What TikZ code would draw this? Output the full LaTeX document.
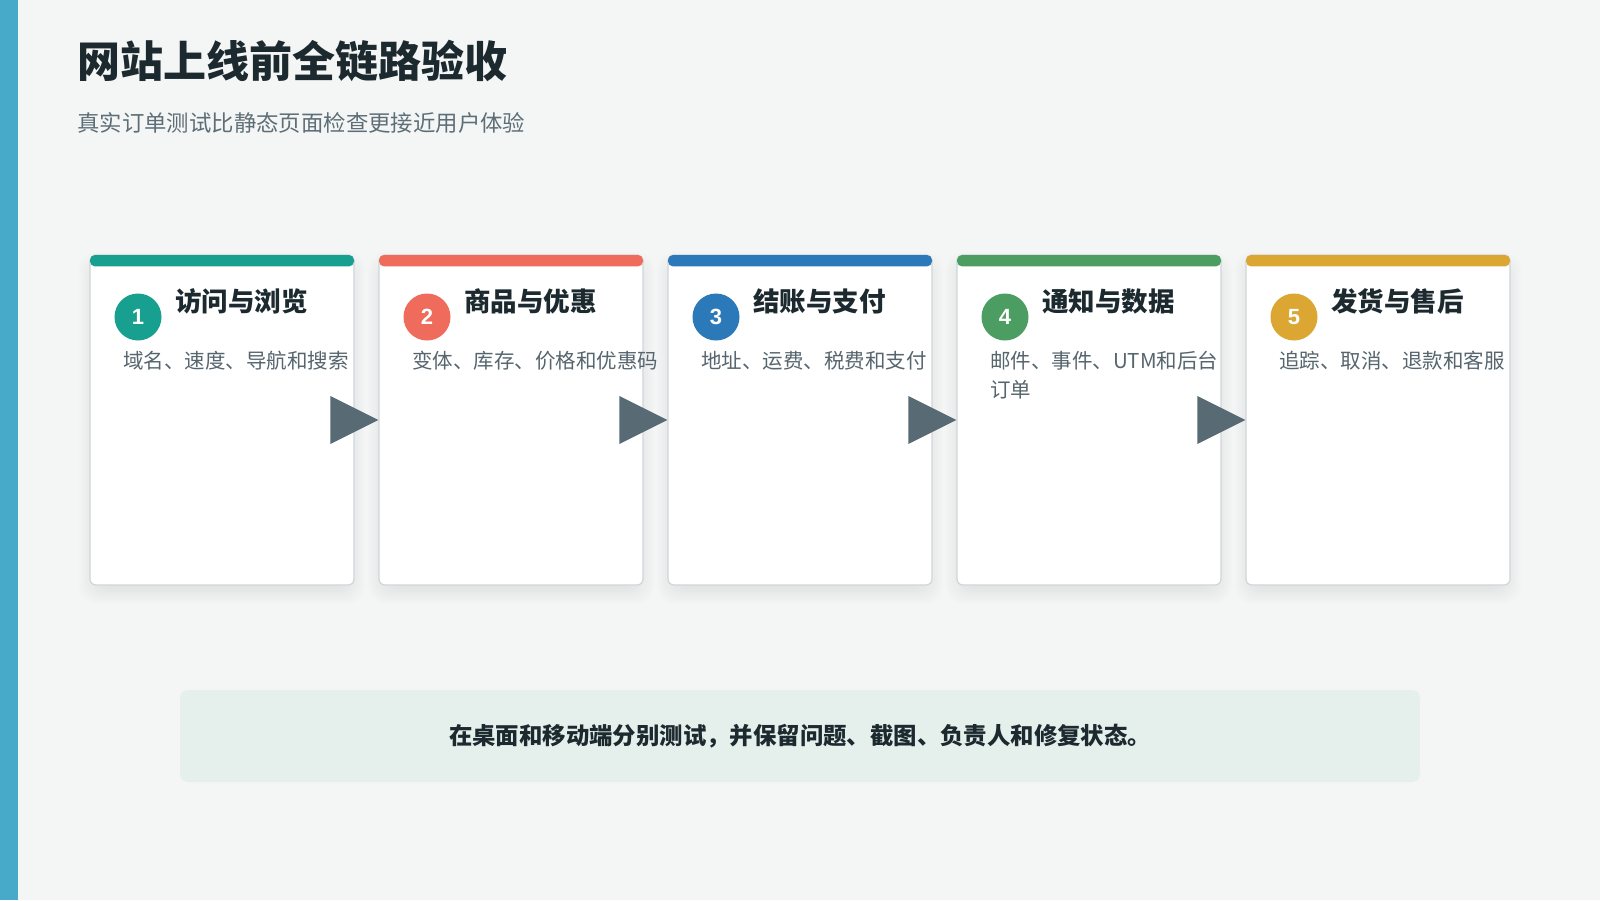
\documentclass[tikz,border=0pt]{standalone}
\usepackage{fontspec}
\setmainfont{Noto Sans CJK SC}
\newfontfamily\numfont{Liberation Sans}
\definecolor{bg}{HTML}{F4F6F6}
\definecolor{sidebar}{HTML}{46AAC8}
\definecolor{titlec}{HTML}{1C2A30}
\definecolor{subc}{HTML}{5E6E77}
\definecolor{descc}{HTML}{56656E}
\definecolor{cardline}{HTML}{CDD6DA}
\definecolor{arrowc}{HTML}{586A73}
\definecolor{noteb}{HTML}{E5F0EC}
\definecolor{cA}{HTML}{17A090}
\definecolor{cB}{HTML}{EF6B5C}
\definecolor{cC}{HTML}{2B79B8}
\definecolor{cD}{HTML}{4B9D62}
\definecolor{cE}{HTML}{DBA632}
\tikzset{
  card/.style={draw=cardline, line width=1.2pt, fill=white, rounded corners=6pt,
    minimum width=264pt, minimum height=330pt, inner sep=0pt},
  shadowbox/.style={fill=black, fill opacity=0.006, rounded corners=18pt,
    minimum width=264pt, minimum height=330pt, inner sep=0pt, draw=none},
  numdot/.style={circle, minimum size=47pt, inner sep=0pt, text=white,
    font=\numfont\bfseries\fontsize{22}{22}\selectfont},
  cardtitle/.style={anchor=west, inner sep=0pt, text=titlec,
    font=\bfseries\fontsize{26.5}{30}\selectfont},
  carddesc/.style={anchor=north west, inner sep=0pt, text=descc, align=left,
    font=\fontsize{20.5}{29}\selectfont},
  flowarrow/.style={fill=arrowc},
}
\begin{document}
\begin{tikzpicture}[x=1pt,y=-1pt]
\useasboundingbox (0,0) rectangle (1600,900);
\fill[bg] (0,0) rectangle (1600,900);
\fill[sidebar] (0,0) rectangle (18,900);
\node[anchor=west, inner sep=0pt, text=titlec, font=\bfseries\fontsize{43}{52}\selectfont] (title) at (77,61) {网站上线前全链路验收};
\node[anchor=west, inner sep=0pt, text=subc, font=\fontsize{22.4}{28}\selectfont] (subtitle) at (77,122.5) {真实订单测试比静态页面检查更接近用户体验};
% shadows
\foreach \i in {0,...,4}{
  \foreach \s in {0,4,...,36}{
    \node[shadowbox, minimum width={250pt+\s pt}, minimum height={316pt+\s pt}] at ({222+289*\i},{428}) {};
  }
}
% cards
\foreach \i/\col/\num/\ttl in {1/cA/1/访问与浏览, 2/cB/2/商品与优惠, 3/cC/3/结账与支付, 4/cD/4/通知与数据, 5/cE/5/发货与售后}{
  \pgfmathsetmacro{\cx}{90+289*(\i-1)}
  \node[card] (c\i) at ({\cx+132},420) {};
  \fill[\col, rounded corners=5pt] ([xshift=0.6pt,yshift=-0.6pt]c\i.north west) rectangle ([xshift=-0.6pt,yshift=-12pt]c\i.north east);
  \node[numdot, fill=\col] (n\i) at ({\cx+48},317) {\num};
  \node[cardtitle] (t\i) at ({\cx+85},301) {\ttl};
}
\node[carddesc] (d1) at ({90+33},351) {域名、速度、导航和搜索};
\node[carddesc] (d2) at ({379+33},351) {变体、库存、价格和优惠码};
\node[carddesc] (d3) at ({668+33},351) {地址、运费、税费和支付};
\node[carddesc] (d4) at ({957+33},351) {邮件、事件、UTM和后台\\订单};
\node[carddesc] (d5) at ({1246+33},351) {追踪、取消、退款和客服};
% arrows between cards
\foreach \j in {2,...,5}{
  \fill[flowarrow] (c\j.west) -- ++(-48,-24) -- ++(0,48) -- cycle;
}
% note
\node[fill=noteb, rounded corners=8pt, minimum width=1240pt, minimum height=92pt, inner sep=0pt,
  text=titlec, font=\bfseries\fontsize{23.4}{26}\selectfont] (note) at (800,736) {在桌面和移动端分别测试，并保留问题、截图、负责人和修复状态。};
\end{tikzpicture}
\end{document}
